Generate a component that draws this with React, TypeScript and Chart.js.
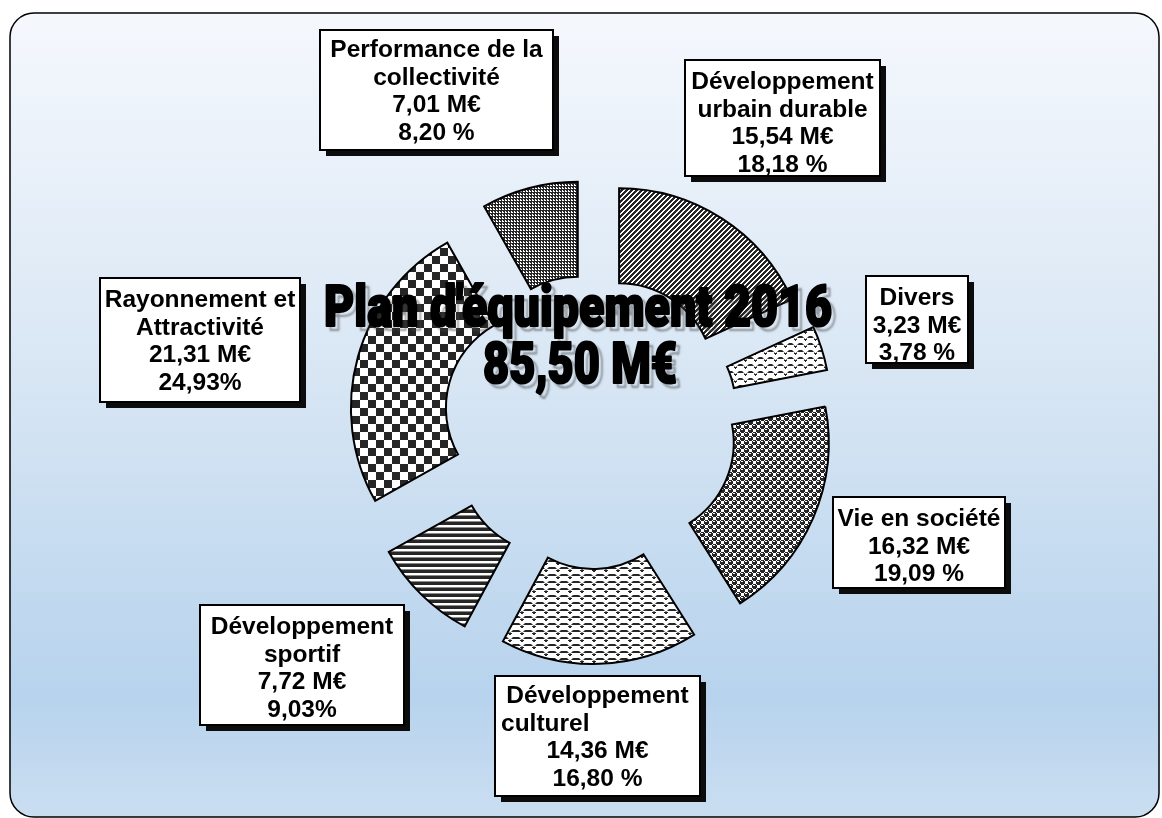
import React, { useEffect, useRef } from 'react';
import { Chart, registerables } from 'chart.js';

Chart.register(...registerables);

// ---------- data ----------
const categories = [
  'Développement urbain durable',
  'Divers',
  'Vie en société',
  'Développement culturel',
  'Développement sportif',
  'Rayonnement et Attractivité',
  'Performance de la collectivité',
];
const amounts = [15.54, 3.23, 16.32, 14.36, 7.72, 21.31, 7.01];
const amountLabels = ['15,54 M€', '3,23 M€', '16,32 M€', '14,36 M€', '7,72 M€', '21,31 M€', '7,01 M€'];
const percentLabels = ['18,18 %', '3,78 %', '19,09 %', '16,80 %', '9,03%', '24,93%', '8,20 %'];
const nameLines = [
  ['Développement', 'urbain durable'],
  ['Divers'],
  ['Vie en société'],
  ['Développement', 'culturel'],
  ['Développement', 'sportif'],
  ['Rayonnement et', 'Attractivité'],
  ['Performance de la', 'collectivité'],
];
const titleLines = ["Plan d'équipement 2016", '85,50 M€'];

// ---------- layout / style ----------
const W = 1162;
const H = 818;
const EXPLODE = 52;
const OUTER_RADIUS = 190;
const DARK = '#262626';

const labelBoxes = [
  { x: 685, y: 60, w: 195, h: 116, first: 80, aligns: ['center', 'center', 'center', 'center'] },
  { x: 866, y: 276, w: 102, h: 87, first: 296, aligns: ['center', 'center', 'center'] },
  { x: 833, y: 497, w: 172, h: 91, first: 517, aligns: ['center', 'center', 'center'] },
  { x: 495, y: 676, w: 205, h: 120, first: 694, aligns: ['center', 'left', 'center', 'center'] },
  { x: 200, y: 605, w: 204, h: 120, first: 625, aligns: ['center', 'center', 'center', 'center'] },
  { x: 100, y: 278, w: 200, h: 124, first: 298, aligns: ['center', 'center', 'center', 'center'] },
  { x: 320, y: 30, w: 233, h: 120, first: 48, aligns: ['center', 'center', 'center', 'center'] },
];
const LINE_GAP = 27.5;
const LABEL_FONT = 'bold 24.5px "Liberation Sans", Arial, sans-serif';

function sphereMap(): string[] {
  const grid: string[][] = [];
  for (let y = 0; y < 8; y++) grid.push('........'.split(''));
  const blob = ['.###.', '#oo##', '#####', '#####', '.###.'];
  [[0, 0], [4, 4]].forEach(([ox, oy]) => {
    blob.forEach((row, y) => {
      row.split('').forEach((ch, x) => {
        if (ch === '.') return;
        grid[(y + oy) % 8][(x + ox) % 8] = ch === '#' ? '#' : '.';
      });
    });
  });
  return grid.map((r) => r.join(''));
}

function checkerMap(size: number): string[] {
  const rows: string[] = [];
  for (let y = 0; y < size * 2; y++) {
    let r = '';
    for (let x = 0; x < size * 2; x++) r += (Math.floor(x / size) + Math.floor(y / size)) % 2 === 0 ? '#' : '.';
    rows.push(r);
  }
  return rows;
}

const patternMaps: string[][] = [
  // wide upward diagonal
  ['###..', '##..#', '#..##', '..###', '.###.'],
  // small wave
  [
    '##+.....+#',
    '###+...+##',
    '....+.+...',
    '....###...',
    '.....#....',
    '..........',
    '..........',
  ],
  // sphere
  sphereMap(),
  // wave (larger)
  [
    '###+....+###',
    '####+..+####',
    '.....++.....',
    '....####....',
    '.....##.....',
    '............',
    '............',
  ],
  // horizontal stripes
  ['#', '#', '#', '.', '.', '+'],
  // large checkerboard
  checkerMap(8),
  // small grid
  ['###', '#.#', '#..'],
];

function makeTile(map: string[]) {
  const h = map.length;
  const w = map[0].length;
  const c = document.createElement('canvas');
  c.width = w;
  c.height = h;
  const g = c.getContext('2d')!;
  g.fillStyle = '#ffffff';
  g.fillRect(0, 0, w, h);
  for (let y = 0; y < h; y++) {
    for (let x = 0; x < w; x++) {
      const ch = map[y][x];
      if (ch === '#') {
        g.fillStyle = DARK;
        g.fillRect(x, y, 1, 1);
      } else if (ch === '+') {
        g.fillStyle = '#8a8a8a';
        g.fillRect(x, y, 1, 1);
      }
    }
  }
  return c;
}

function roundRectPath(ctx: CanvasRenderingContext2D, x: number, y: number, w: number, h: number, r: number) {
  ctx.beginPath();
  ctx.moveTo(x + r, y);
  ctx.lineTo(x + w - r, y);
  ctx.arcTo(x + w, y, x + w, y + r, r);
  ctx.lineTo(x + w, y + h - r);
  ctx.arcTo(x + w, y + h, x + w - r, y + h, r);
  ctx.lineTo(x + r, y + h);
  ctx.arcTo(x, y + h, x, y + h - r, r);
  ctx.lineTo(x, y + r);
  ctx.arcTo(x, y, x + r, y, r);
  ctx.closePath();
}

const backgroundPlugin = {
  id: 'panelBackground',
  beforeDraw(chart: any) {
    const ctx = chart.ctx as CanvasRenderingContext2D;
    ctx.save();
    ctx.fillStyle = '#ffffff';
    ctx.fillRect(0, 0, W, H);
    const grad = ctx.createLinearGradient(0, 13, 0, 817);
    grad.addColorStop(0, '#f5f8fd');
    grad.addColorStop(0.45, '#d8e6f4');
    grad.addColorStop(0.85, '#b7d3ed');
    grad.addColorStop(1, '#cadef1');
    roundRectPath(ctx, 10, 13, 1149, 804, 24);
    ctx.fillStyle = grad;
    ctx.fill();
    ctx.lineWidth = 1.5;
    ctx.strokeStyle = '#000';
    ctx.stroke();
    ctx.restore();
  },
};

const explodePlugin = {
  id: 'explodeSlices',
  afterDatasetUpdate(chart: any, args: any) {
    const meta = chart.getDatasetMeta(args.index);
    meta.data.forEach((arc: any) => {
      const mid = (arc.startAngle + arc.endAngle) / 2;
      arc.x += Math.cos(mid) * EXPLODE;
      arc.y += Math.sin(mid) * EXPLODE;
    });
  },
};

function drawFitted(ctx: CanvasRenderingContext2D, text: string, cx: number, baseline: number, targetW: number) {
  const m = ctx.measureText(text).width;
  const sx = targetW / m;
  // shadow pass
  ctx.save();
  ctx.translate(cx, baseline);
  ctx.scale(sx, 1);
  ctx.textAlign = 'center';
  ctx.textBaseline = 'alphabetic';
  ctx.shadowColor = 'rgba(70,70,70,0.55)';
  ctx.shadowOffsetX = 4;
  ctx.shadowOffsetY = 4;
  ctx.shadowBlur = 2;
  ctx.fillStyle = '#000';
  ctx.strokeStyle = '#000';
  ctx.lineWidth = 2.2;
  ctx.lineJoin = 'round';
  ctx.strokeText(text, 0, 0);
  ctx.shadowColor = 'transparent';
  ctx.fillText(text, 0, 0);
  ctx.restore();
}

const annotationPlugin = {
  id: 'annotations',
  afterDraw(chart: any) {
    const ctx = chart.ctx as CanvasRenderingContext2D;
    // title
    ctx.save();
    ctx.font = '900 57px Roboto, Inter, "DejaVu Sans", sans-serif';
    drawFitted(ctx, titleLines[0], 578, 326, 508);
    drawFitted(ctx, titleLines[1], 580, 383, 194);
    ctx.restore();

    // label boxes
    labelBoxes.forEach((b, i) => {
      ctx.save();
      ctx.fillStyle = '#0c0c0c';
      ctx.fillRect(b.x + 6, b.y + 6, b.w, b.h);
      ctx.fillStyle = '#ffffff';
      ctx.fillRect(b.x, b.y, b.w, b.h);
      ctx.lineWidth = 2;
      ctx.strokeStyle = '#000';
      ctx.strokeRect(b.x, b.y, b.w, b.h);
      const lines = [...nameLines[i], amountLabels[i], percentLabels[i]];
      ctx.font = LABEL_FONT;
      ctx.fillStyle = '#000';
      ctx.textBaseline = 'alphabetic';
      lines.forEach((t, k) => {
        const y = b.first + k * LINE_GAP + 9;
        const al = b.aligns[k] || 'center';
        if (al === 'left') {
          ctx.textAlign = 'left';
          ctx.fillText(t, b.x + 6, y);
        } else {
          ctx.textAlign = 'center';
          ctx.fillText(t, b.x + b.w / 2, y);
        }
      });
      ctx.restore();
    });
  },
};

export default function App() {
  const ref = useRef<HTMLCanvasElement>(null);
  useEffect(() => {
    const canvas = ref.current!;
    const ctx = canvas.getContext('2d')!;
    const patterns = patternMaps.map((m) => ctx.createPattern(makeTile(m), 'repeat'));
    const chart = new Chart(canvas, {
      type: 'doughnut',
      data: {
        labels: categories,
        datasets: [
          {
            data: amounts,
            backgroundColor: patterns as any,
            borderColor: '#000',
            borderWidth: 2,
            borderJoinStyle: 'miter',
            radius: OUTER_RADIUS,
            cutout: '50%',
            rotation: 0,
          } as any,
        ],
      },
      options: {
        responsive: false,
        animation: false,
        events: [],
        layout: { padding: { left: 20, top: 26, right: 0, bottom: 0 } },
        plugins: {
          legend: { display: false },
          tooltip: { enabled: false },
        },
      } as any,
      plugins: [backgroundPlugin, explodePlugin, annotationPlugin],
    });
    return () => chart.destroy();
  }, []);
  return (
    <div style={{ position: 'fixed', left: 0, top: 0, width: W, height: H, background: '#fff' }}>
      <canvas ref={ref} width={W} height={H} style={{ display: 'block', width: W, height: H }} />
    </div>
  );
}
